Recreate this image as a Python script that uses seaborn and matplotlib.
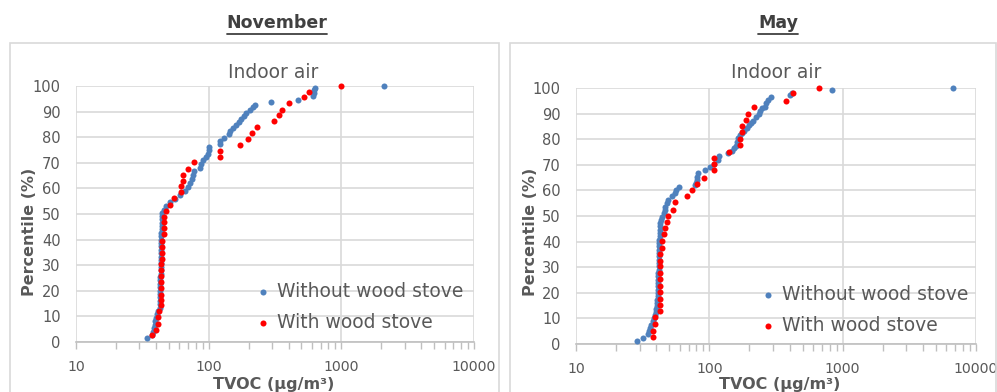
import matplotlib
matplotlib.use("Agg")
import matplotlib.pyplot as plt
import seaborn as sns
import pandas as pd
from matplotlib.patches import Rectangle
from matplotlib.lines import Line2D
from matplotlib.ticker import FixedLocator, FixedFormatter, LogLocator, NullFormatter

# ---------------- data ----------------
panel_titles = ["November", "May"]
inner_title = "Indoor air"
series_names = ["Without wood stove", "With wood stove"]
x_ticks = [10, 100, 1000, 10000]
x_tick_labels = ["10", "100", "1000", "10000"]
y_ticks = [0, 10, 20, 30, 40, 50, 60, 70, 80, 90, 100]

nov_without_pct = [1.4, 2.7, 3.9, 5.5, 6.6, 8.2, 9.4, 10.9, 12.1, 13.3, 14.8, 16.0, 17.6, 18.8,
                   19.9, 21.5, 22.7, 24.2, 25.4, 26.6, 28.1, 29.3, 30.9, 32.0, 33.2, 34.8, 35.9,
                   37.5, 38.7, 39.8, 41.4, 42.6, 44.1, 45.3, 46.5, 48.0, 49.2, 50.4, 51.6, 53.1,
                   54.7, 55.9, 57.4, 59.0, 60.5, 62.1, 63.7, 65.2, 66.8, 68.0, 69.5, 71.1, 72.3,
                   73.4, 75.0, 76.2, 77.3, 78.5, 79.7, 81.3, 82.4, 83.6, 84.8, 85.9, 87.1, 88.3,
                   89.5, 90.6, 91.8, 92.6, 93.8, 94.5, 96.1, 97.3, 98.4, 99.2, 100.0]
nov_without_val = [34.5, 37.6, 38.2, 38.7, 39.4, 39.7, 40.1, 40.8, 41.5, 42.6, 43.0, 43.3, 43.3,
                   43.3, 43.3, 43.3, 43.3, 43.3, 43.3, 43.6, 43.6, 43.6, 43.6, 43.7, 43.7, 43.7,
                   43.7, 43.9, 43.9, 43.9, 44.1, 44.1, 44.5, 44.5, 44.5, 44.5, 44.5, 44.5, 46.0,
                   47.7, 51.1, 55.7, 60.8, 66.3, 69.8, 72.3, 74.8, 76.2, 77.5, 86.0, 87.5, 90.6,
                   95.4, 98.8, 100.5, 100.5, 121.7, 121.7, 130.4, 141.5, 144.7, 152.4, 160.6,
                   169.2, 175.2, 184.5, 191.0, 204.8, 215.7, 223.4, 294.8, 471, 611, 622, 622,
                   632, 2094]

nov_with_pct = [2.7, 4.7, 7.0, 9.6, 12.2, 14.3, 16.4, 18.4, 21.0, 23.6, 25.8, 28.0, 30.5, 32.5,
                34.8, 37.2, 39.6, 42.2, 44.5, 47.0, 49.0, 51.3, 53.6, 56.1, 58.5, 60.8, 62.9,
                65.2, 67.6, 70.2, 72.4, 74.7, 76.8, 79.2, 81.5, 84.0, 86.3, 88.8, 90.8, 93.2,
                95.6, 97.8, 100.0]
nov_with_val = [37.6, 39.9, 41.3, 41.3, 42.2, 43.9, 43.9, 43.9, 43.9, 43.9, 43.9, 43.9, 43.9,
                44.5, 44.5, 44.7, 44.7, 45.8, 46.3, 46.3, 46.3, 47.6, 50.8, 55.1, 61.5, 61.5,
                64.4, 64.4, 70.2, 77.9, 122, 122, 171, 199, 213, 231, 312, 340, 357, 405, 522,
                573, 1000]

may_without_pct = [1.3, 2.5, 3.9, 5.1, 6.3, 7.4, 8.8, 10.2, 11.3, 12.5, 13.7, 14.8, 16.0, 17.2,
                   18.6, 19.9, 21.1, 22.5, 23.8, 25.0, 26.4, 27.7, 28.9, 30.3, 31.6, 32.8, 34.2,
                   35.5, 36.7, 38.1, 39.5, 40.6, 42.0, 43.4, 44.5, 45.9, 47.3, 48.4, 49.8, 51.2,
                   52.3, 53.7, 55.1, 56.4, 57.8, 59.0, 60.2, 61.2, 62.1, 62.9, 64.1, 65.2, 66.7,
                   68.0, 69.0, 70.5, 71.9, 73.4, 74.6, 75.5, 76.6, 77.5, 79.0, 80.3, 81.6, 82.4,
                   83.3, 84.4, 85.5, 86.3, 87.2, 88.5, 89.7, 91.0, 92.0, 92.7, 94.0, 95.3, 96.6,
                   97.3, 98.2, 99.2, 100.0]
may_without_val = [28.8, 32.0, 34.7, 35.3, 35.9, 36.5, 37.5, 38.5, 39.1, 39.6, 39.8, 40.2, 40.5,
                   40.7, 40.9, 41.0, 41.2, 41.2, 41.2, 41.3, 41.4, 41.4, 41.6, 41.6, 41.6, 41.7,
                   41.7, 41.8, 41.9, 41.9, 42.0, 42.1, 42.3, 42.4, 42.5, 42.7, 43.0, 43.4, 43.9,
                   45.7, 46.5, 46.9, 47.9, 49.2, 52.5, 55.3, 56.2, 59.3, 78.1, 79.5, 80.4, 80.8,
                   81.8, 92.8, 101.2, 108.5, 116.8, 118.2, 138.1, 147.2, 153.2, 157.8, 160.6,
                   164.2, 170.0, 176.0, 183.1, 190.2, 197.6, 205.6, 213.9, 224.0, 236.0, 240.1,
                   248.5, 260.4, 264.9, 277.1, 290.3, 403, 415, 833, 6732]

may_with_pct = [2.7, 5.1, 7.8, 10.4, 13.0, 15.4, 17.7, 20.3, 22.7, 25.3, 27.9, 30.4, 32.5, 35.0,
                37.5, 40.4, 42.9, 45.2, 47.5, 50.0, 52.5, 55.4, 57.8, 60.2, 62.6, 65.0, 68.0,
                70.3, 72.7, 75.0, 77.6, 80.0, 82.8, 85.3, 87.6, 90.0, 92.6, 94.9, 97.9, 100.0]
may_with_val = [38.0, 38.0, 38.9, 39.3, 42.5, 42.5, 42.5, 42.5, 42.5, 42.5, 42.5, 42.5, 42.5,
                42.5, 44.2, 44.2, 46.0, 46.3, 48.2, 49.2, 53.4, 54.8, 68.0, 73.8, 80.4, 91.7,
                108.5, 108.5, 108.5, 139.8, 169, 169, 176.9, 176.9, 187.5, 196.2, 217.6, 374,
                424.6, 665]

panels = [
    (pd.DataFrame({"TVOC": nov_without_val, "pct": nov_without_pct}),
     pd.DataFrame({"TVOC": nov_with_val, "pct": nov_with_pct})),
    (pd.DataFrame({"TVOC": may_without_val, "pct": may_without_pct}),
     pd.DataFrame({"TVOC": may_with_val, "pct": may_with_pct})),
]

# ---------------- style ----------------
TXT = "#595959"
GRID = "#d9d9d9"
BLUE = "#4f81bd"
RED = "#ff0000"
sns.set_theme(style="whitegrid", rc={"grid.color": GRID, "grid.linewidth": 1.2,
                                     "axes.grid": True})
plt.rcParams["font.family"] = ["DejaVu Sans"]

W, H = 997, 392
fig = plt.figure(figsize=(W / 100, H / 100), dpi=100)

def fx(px):
    return px / W

def fy(py):
    return 1 - py / H

# plot areas in pixels (left, top, right, bottom)
areas = [(76, 86, 474, 342), (576, 88, 976, 344)]
boxes = [(10, 43, 500), (510, 43, 997)]
title_x = [277, 778]
inner_x = [273, 776]
ylabel_x = [30, 530]
xlabel_x = [274, 780]
legend_anchor = [(252, 282), (757, 285)]

title_objs = []
for i, (l, t, r, b) in enumerate(areas):
    bx0, by0, bx1 = boxes[i]
    fig.add_artist(Rectangle((fx(bx0), -0.02), fx(bx1) - fx(bx0) - 0.001, fy(by0) + 0.02,
                             transform=fig.transFigure, fill=False, edgecolor=GRID, lw=1.2))
    ax = fig.add_axes([fx(l), fy(b), fx(r) - fx(l), fy(t) - fy(b)])
    d_without, d_with = panels[i]
    sns.scatterplot(data=d_without, x="TVOC", y="pct", ax=ax, color=BLUE, s=19,
                    linewidth=0, clip_on=False, label=series_names[0], zorder=3)
    sns.scatterplot(data=d_with, x="TVOC", y="pct", ax=ax, color=RED, s=19,
                    linewidth=0, clip_on=False, label=series_names[1], zorder=4)
    ax.set_xscale("log")
    ax.set_xlim(10, 10000)
    ax.set_ylim(0, 100)
    ax.xaxis.set_major_locator(FixedLocator(x_ticks))
    ax.xaxis.set_major_formatter(FixedFormatter(x_tick_labels))
    ax.xaxis.set_minor_locator(LogLocator(base=10, subs=[2, 3, 4, 5, 6, 7, 8, 9]))
    ax.xaxis.set_minor_formatter(NullFormatter())
    ax.set_yticks(y_ticks)
    for s in ["left", "right", "top"]:
        ax.spines[s].set_visible(False)
    ax.spines["bottom"].set_color("#bfbfbf")
    ax.spines["bottom"].set_linewidth(1.2)
    ax.tick_params(axis="x", which="both", direction="out", length=5, width=1,
                   color="#bfbfbf", labelsize=10.2, labelcolor=TXT, pad=8, bottom=True)
    ax.tick_params(axis="y", length=0, labelsize=10.5, labelcolor=TXT, pad=11)
    ax.set_xlabel("")
    ax.set_ylabel("")
    ax.patch.set_alpha(0)
    ax.set_axisbelow(True)
    ax.xaxis.grid(True, which="major", color=GRID, lw=1.2)
    ax.xaxis.grid(False, which="minor")
    ax.yaxis.grid(True, which="major", color=GRID, lw=1.2)
    leg = ax.legend(loc="upper left",
                    bbox_to_anchor=((legend_anchor[i][0] - l) / (r - l),
                                    (b - legend_anchor[i][1]) / (b - t)),
                    frameon=False, fontsize=13.5, handletextpad=0.15, labelspacing=0.65,
                    borderaxespad=0, borderpad=0, markerscale=1.0, handlelength=1.2)
    for tx in leg.get_texts():
        tx.set_color(TXT)

    fig.text(fx(ylabel_x[i]), fy(232), "Percentile (%)", rotation=90, ha="center",
             va="center", fontsize=11.5, fontweight="bold", color=TXT)
    fig.text(fx(xlabel_x[i]), fy(385), "TVOC (µg/m³)", ha="center", va="center",
             fontsize=11.5, fontweight="bold", color=TXT)
    fig.text(fx(inner_x[i]), fy(72), inner_title, ha="center", va="center",
             fontsize=13.5, color=TXT)
    tt = fig.text(fx(title_x[i]), fy(23), panel_titles[i], ha="center", va="center",
                  fontsize=12.5, fontweight="bold", color="#404040")
    title_objs.append(tt)

fig.canvas.draw()
for tt in title_objs:
    bb = tt.get_window_extent()
    yline = bb.y0 - 1.5
    fig.add_artist(Line2D([bb.x0 / W, bb.x1 / W], [yline / H, yline / H],
                          transform=fig.transFigure, color="#404040", lw=1.3))

fig.savefig("out.png", dpi=100)
